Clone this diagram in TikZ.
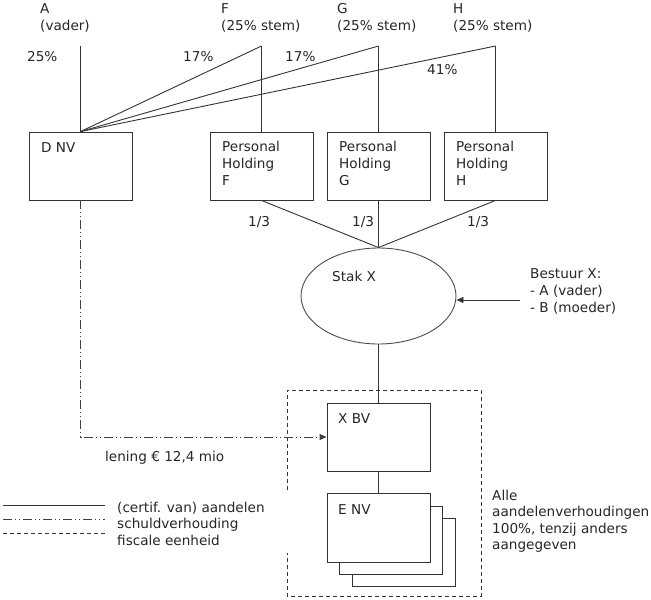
\documentclass[tikz,border=0pt]{standalone}
\usepackage{fontspec}
\setmainfont{DejaVu Sans}
\usepackage{tikz}
\usetikzlibrary{shapes.geometric,arrows.meta}

\begin{document}
\begin{tikzpicture}[x=1pt,y=-1pt,
  every node/.style={font=\fontsize{13.6}{17}\selectfont, text=black!85},
  lbl/.style={anchor=north west, inner sep=0pt, align=left},
  box/.style={draw=black!80, line width=0.9pt, fill=white, minimum width=103pt, minimum height=68pt, inner sep=0pt},
  aandeel/.style={draw=black!80, line width=0.9pt},
  schuld/.style={draw=black!75, line width=0.9pt, dash pattern=on 9pt off 3pt on 1pt off 3pt on 1pt off 3pt},
  fiscaal/.style={draw=black!80, line width=0.9pt, dash pattern=on 4pt off 3pt}]
\useasboundingbox (0,0) rectangle (651,600);

% aandeelhouders
\node[lbl] (lblA) at (40,3) {A\\(vader)};
\node[lbl] (lblF) at (221,3) {F\\(25\% stem)};
\node[lbl] (lblG) at (337,3) {G\\(25\% stem)};
\node[lbl] (lblH) at (453,3) {H\\(25\% stem)};
\coordinate (topA) at (80.5,46);
\coordinate (topF) at (261.5,46);
\coordinate (topG) at (378.5,46);
\coordinate (topH) at (495.5,46);

% vennootschappen
\node[box] (dnv) at (80.5,166) {};
\node[box] (phF) at (261.5,166) {};
\node[box] (phG) at (378.5,166) {};
\node[box] (phH) at (495.5,166) {};
\node[lbl] (tDnv) at (41,142) {D NV};
\node[lbl] (tPhF) at (222,141) {Personal\\Holding\\F};
\node[lbl] (tPhG) at (339,141) {Personal\\Holding\\G};
\node[lbl] (tPhH) at (456,141) {Personal\\Holding\\H};

\node[ellipse, draw=black!70, line width=0.9pt, minimum width=155pt, minimum height=96pt, inner sep=0pt] (stak) at (378.5,296) {};
\node[lbl] (tStak) at (332,271) {Stak X};

% fiscale eenheid
\draw[fiscaal] (287,490) -- (287,390) -- (481,390) -- (481,596) -- (287,596) -- (287,553);
\node[box] (env3) at (403.5,552.5) {};
\node[box] (env2) at (391,540) {};
\node[box, minimum height=69pt] (env) at (378.5,527.5) {};
\node[box] (xbv) at (378.5,437) {};
\node[lbl] (tXbv) at (338,413) {X BV};
\node[lbl] (tEnv) at (338,504) {E NV};

% aandelen
\draw[aandeel] (topA) -- (dnv.north);
\draw[aandeel] (topF) -- (dnv.north);
\draw[aandeel] (topG) -- (dnv.north);
\draw[aandeel] (topH) -- (dnv.north);
\draw[aandeel] (topF) -- (phF.north);
\draw[aandeel] (topG) -- (phG.north);
\draw[aandeel] (topH) -- (phH.north);
\draw[aandeel] (phF.south) -- (stak.north);
\draw[aandeel] (phG.south) -- (stak.north);
\draw[aandeel] (phH.south) -- (stak.north);
\draw[aandeel] (stak.south) -- (xbv.north);
\draw[aandeel] (xbv.south) -- (env.north);

\node[lbl] (p25) at (27,51) {25\%};
\node[lbl] (p17F) at (183,51) {17\%};
\node[lbl] (p17G) at (285,51) {17\%};
\node[lbl] (p41H) at (427,64) {41\%};
\node[lbl] (dF) at (248,216) {1/3};
\node[lbl] (dG) at (352,216) {1/3};
\node[lbl] (dH) at (467,216) {1/3};

% bestuur
\node[lbl] (bestuur) at (530,268) {Bestuur X:\\- A (vader)\\- B (moeder)};
\coordinate (bestuurPijl) at (520,300);
\draw[aandeel, -{Triangle[length=7pt,width=6pt]}] (bestuurPijl) -- (stak.east |- bestuurPijl);

% lening
\draw[schuld, -{Triangle[length=7pt,width=6pt]}] (dnv.south) |- (xbv.west);
\node[lbl] (lening) at (105,451) {lening € 12,4 mio};

% legenda
\draw[aandeel] (3,505) -- (105,505);
\draw[schuld] (3,519) -- (105,519);
\draw[fiscaal] (3,533) -- (105,533);
\node[lbl, font=\fontsize{13.6}{16.3}\selectfont] (legenda) at (117,502) {(certif. van) aandelen\\schuldverhouding\\fiscale eenheid};
\node[lbl, font=\fontsize{13.6}{16.3}\selectfont] (noot) at (492,490) {Alle\\aandelenverhoudingen\\100\%, tenzij anders\\aangegeven};
\end{tikzpicture}
\end{document}
